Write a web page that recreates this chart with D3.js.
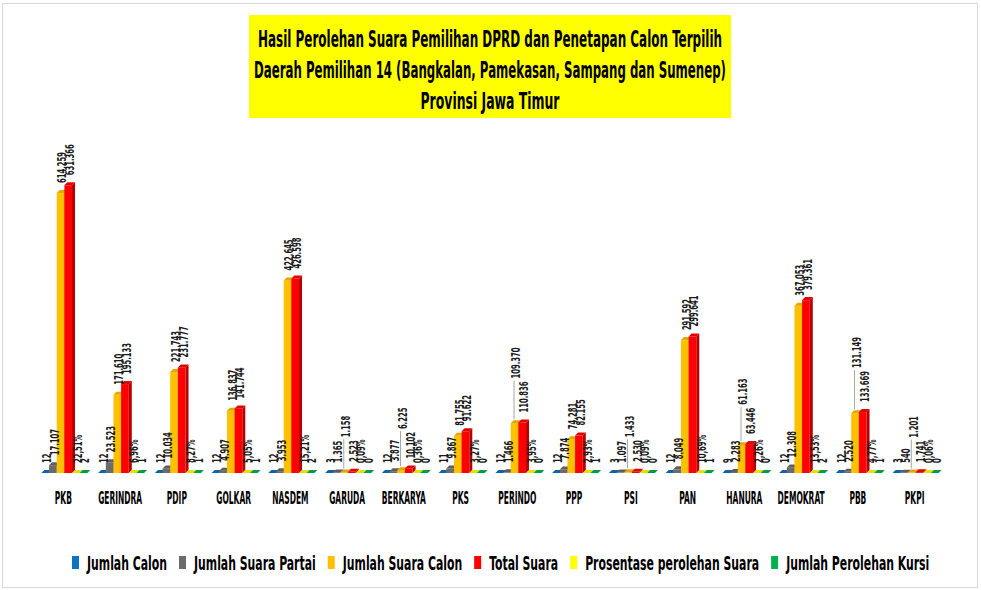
<!DOCTYPE html>
<html lang="id">
<head>
<meta charset="UTF-8">
<title>Hasil Perolehan Suara DPRD Dapil 14</title>
<script src="https://d3js.org/d3.v7.min.js"></script>
<style>
    body {margin: 0; background: #fff;}
    text {
        font-family: "Liberation Sans Narrow", "DejaVu Sans Condensed", "DejaVu Sans", sans-serif;
        font-weight: bold;
        fill: #1a1a1a;
    }
</style>
</head>
<body>
<script>
    const width = 981;
    const height = 590;

    // data
    const partai = ["PKB", "GERINDRA", "PDIP", "GOLKAR", "NASDEM", "GARUDA", "BERKARYA", "PKS",
                    "PERINDO", "PPP", "PSI", "PAN", "HANURA", "DEMOKRAT", "PBB", "PKPI"];
    const jumlahCalon = [12, 12, 12, 12, 12, 3, 12, 11, 12, 12, 3, 12, 9, 12, 12, 3];
    const suaraPartai = [17107, 23523, 10034, 4907, 3953, 1365, 3877, 9867, 1466, 7874, 1097, 8049, 2283, 12308, 2520, 540];
    const suaraCalon  = [614259, 171610, 221743, 136837, 422645, 1158, 6225, 81755, 109370, 74281, 1433, 291592, 61163, 367053, 131149, 1201];
    const totalSuara  = [631366, 195133, 231777, 141744, 426598, 2523, 10102, 91622, 110836, 82155, 2530, 299641, 63446, 379361, 133669, 1741];
    const prosentase  = [22.51, 6.96, 8.27, 5.05, 15.21, 0.09, 0.36, 3.27, 3.95, 2.93, 0.09, 10.69, 2.26, 13.53, 4.77, 0.06];
    const kursi       = [2, 1, 1, 1, 2, 0, 0, 0, 0, 1, 0, 1, 0, 2, 1, 0];

    const seriesNames = ["Jumlah Calon", "Jumlah Suara Partai", "Jumlah Suara Calon", "Total Suara",
                         "Prosentase perolehan Suara", "Jumlah Perolehan Kursi"];
    const seriesValues = [jumlahCalon, suaraPartai, suaraCalon, totalSuara, prosentase, kursi];
    const seriesColors = ["#0b72c4", "#6b6b6b", "#ffc000", "#ff0000", "#ffff00", "#00b050"];

    // parties where the "suara calon" label was pulled up with a leader line
    const liftCalon = ["GARUDA", "BERKARYA", "PERINDO", "PSI", "HANURA", "PBB", "PKPI"];

    const titleLines = ["Hasil Perolehan Suara Pemilihan DPRD dan Penetapan Calon Terpilih",
                        "Daerah Pemilihan 14 (Bangkalan, Pamekasan, Sampang dan Sumenep)",
                        "Provinsi Jawa Timur"];

    const svg = d3.select("body").append("svg")
            .attr("width", width).attr("height", height);

    svg.append("rect")
            .attr("x", 2.5).attr("y", 3.5)
            .attr("width", 975).attr("height", 584)
            .style("fill", "#fff")
            .style("stroke", "#d9d9d9");

    // the original font is a narrow one: find a squeeze factor from one sample string
    function squeezeFactor(sample, size, target) {
        const t = svg.append("text").style("font-size", size + "px").text(sample);
        const k = target / t.node().getComputedTextLength();
        t.remove();
        return k;
    }
    function condense(sel, k) {
        sel.each(function() {
            const w = this.getComputedTextLength();
            d3.select(this).attr("textLength", w * k).attr("lengthAdjust", "spacingAndGlyphs");
        });
    }

    // title
    svg.append("rect")
            .attr("x", 249).attr("y", 15)
            .attr("width", 482).attr("height", 103)
            .style("fill", "#ffff00");

    const titleW = [464, 472, 139];
    svg.selectAll("text.title")
            .data(titleLines)
            .enter().append("text")
            .attr("class", "title")
            .attr("x", 490)
            .attr("y", (d, i) => 47 + i * 31)
            .attr("text-anchor", "middle")
            .style("font-size", "23px")
            .style("fill", "#000")
            .attr("textLength", (d, i) => titleW[i])
            .attr("lengthAdjust", "spacingAndGlyphs")
            .text(d => d);

    // scales
    const x = d3.scaleBand().domain(partai)
            .range([36, 944]).paddingInner(0.19).paddingOuter(0.095);
    const xs = d3.scaleBand().domain(d3.range(seriesNames.length))
            .range([0, x.bandwidth()]);
    const y = d3.scaleLinear().domain([0, 700000]).range([473, 154]);
    const depth = 3;

    const idLocale = d3.formatLocale({decimal: ",", thousands: ".", grouping: [3], currency: ["Rp", ""]});
    const fmtNum = idLocale.format(",");
    const fmtPct = v => idLocale.format(".2f")(v) + "%";

    const kLabel = squeezeFactor("614.259", 12, 31);

    const groups = svg.selectAll("g.partai")
            .data(partai)
            .enter().append("g")
            .attr("class", "partai")
            .attr("transform", d => `translate(${x(d)},0)`);

    groups.each(function(p, i) {
        const g = d3.select(this);
        const w = xs.bandwidth();
        const bars = seriesValues.map((vals, s) => ({s: s, v: vals[i]}));

        bars.forEach(b => {
            const x0 = xs(b.s), x1 = x0 + w;
            const yt = y(b.v), yb = y(0);
            const c = d3.color(seriesColors[b.s]);
            g.append("rect")
                    .attr("x", x0).attr("y", yt)
                    .attr("width", w).attr("height", yb - yt)
                    .style("fill", c);
            g.append("path")
                    .attr("d", `M${x1},${yt}L${x1 + depth},${yt - depth}L${x1 + depth},${yb - depth}L${x1},${yb}Z`)
                    .style("fill", c.darker(0.9));
            g.append("path")
                    .attr("d", `M${x0},${yt}L${x0 + depth},${yt - depth}L${x1 + depth},${yt - depth}L${x1},${yt}Z`)
                    .style("fill", c.darker(0.35));
        });

        // data labels, rotated
        const labels = bars.map(b => {
            const lx = xs(b.s) + w / 2 + 1.5;
            const ly = y(b.v) - 10;
            const t = g.append("text")
                    .attr("transform", `translate(${lx},${ly}) rotate(-90)`)
                    .attr("dy", "0.36em")
                    .style("font-size", "12px")
                    .text(b.s === 4 ? fmtPct(b.v) : fmtNum(b.v))
                    .call(condense, kLabel);
            return {b: b, t: t, lx: lx, ly: ly};
        });

        if (liftCalon.includes(p)) {
            const red = labels[3], cal = labels[2];
            const top = red.ly - (+red.t.attr("textLength")) - 3;
            cal.t.attr("transform", `translate(${cal.lx},${top}) rotate(-90)`);
            g.append("line")
                    .attr("x1", cal.lx - 2).attr("x2", cal.lx - 2)
                    .attr("y1", top + 2).attr("y2", y(cal.b.v) - depth - 1)
                    .style("stroke", "#a6a6a6")
                    .style("stroke-width", 1);
        }
    });

    // category labels
    const kCat = squeezeFactor("GERINDRA", 17, 44);
    svg.selectAll("text.cat")
            .data(partai)
            .enter().append("text")
            .attr("class", "cat")
            .attr("x", d => x(d) + x.bandwidth() / 2 - 1)
            .attr("y", 504)
            .attr("text-anchor", "middle")
            .style("font-size", "17px")
            .style("fill", "#000")
            .text(d => d)
            .call(condense, kCat);

    // legend
    const kLeg = squeezeFactor("Jumlah Calon", 20, 80);
    const legend = svg.append("g").attr("class", "legend");
    let lx = 72;
    seriesNames.forEach((name, s) => {
        legend.append("rect")
                .attr("x", lx).attr("y", 556)
                .attr("width", 7).attr("height", 13)
                .style("fill", seriesColors[s]);
        const t = legend.append("text")
                .attr("x", lx + 15).attr("y", 570)
                .style("font-size", "20px")
                .style("fill", "#000")
                .text(name)
                .call(condense, kLeg);
        lx += 15 + (+t.attr("textLength")) + 12;
    });
</script>
</body>
</html>
